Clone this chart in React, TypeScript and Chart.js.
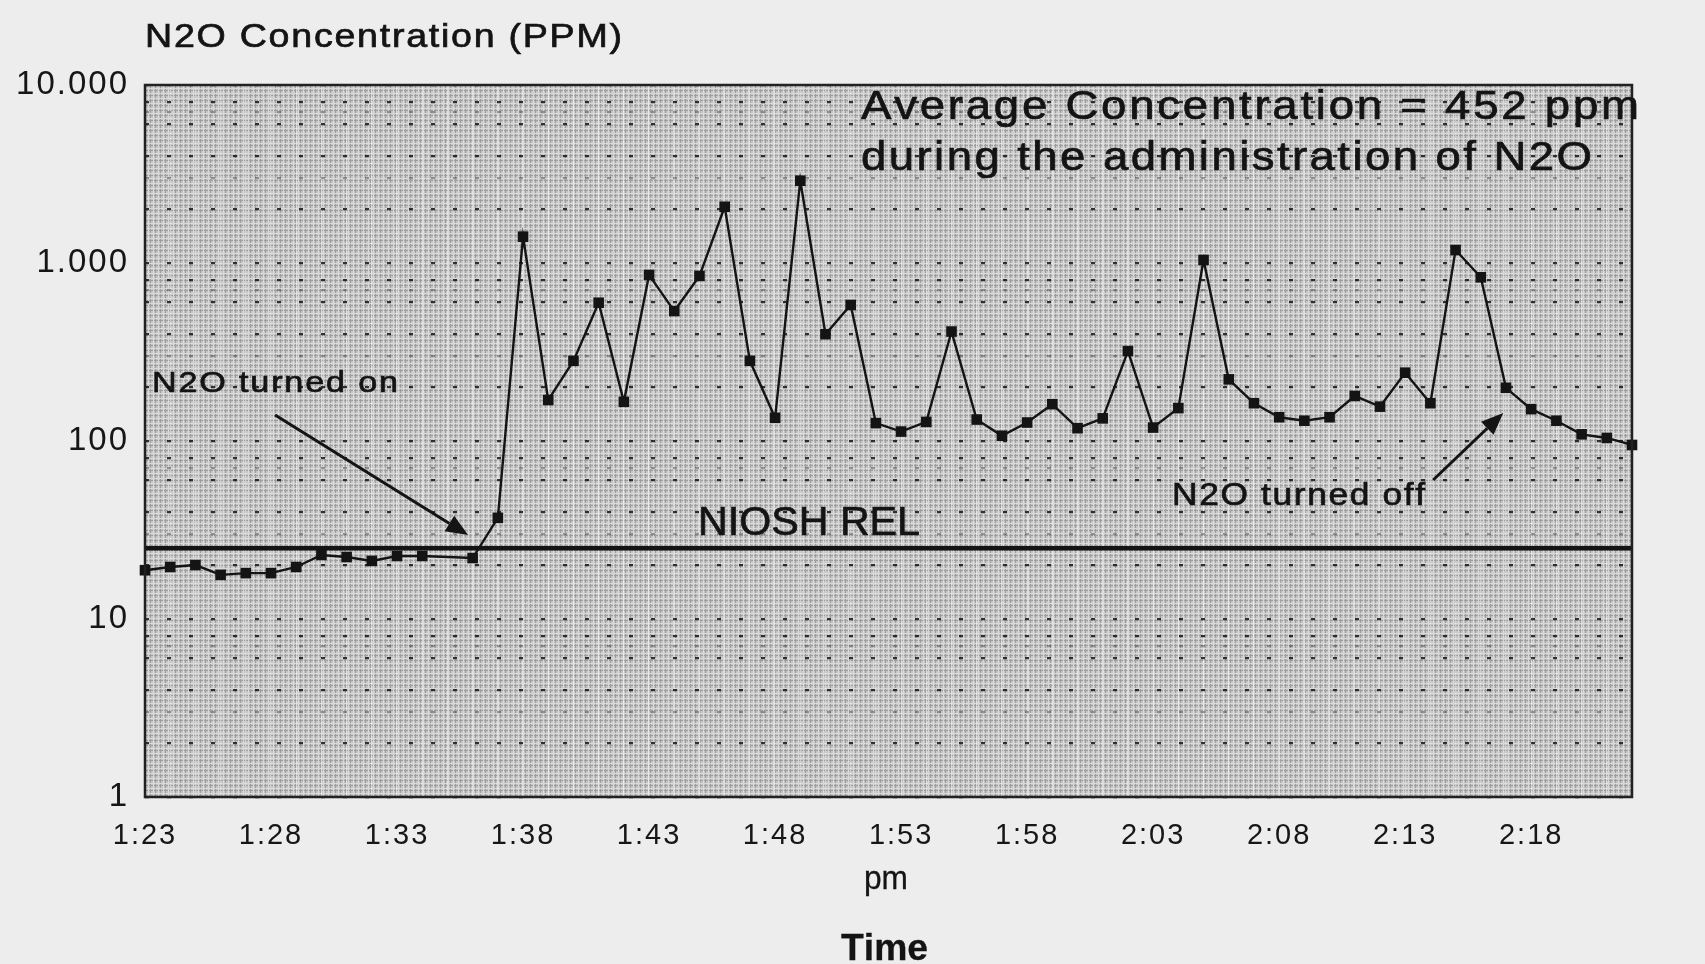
import React, { useEffect, useRef } from 'react';
import { Chart, registerables } from 'chart.js';

Chart.register(...registerables);

// ---- data ----
// minutes elapsed since 1:23 pm (1:35 has no sample)
const minutes = [
  0, 1, 2, 3, 4, 5, 6, 7, 8, 9, 10, 11, 13, 14, 15, 16, 17, 18, 19, 20,
  21, 22, 23, 24, 25, 26, 27, 28, 29, 30, 31, 32, 33, 34, 35, 36, 37, 38, 39, 40,
  41, 42, 43, 44, 45, 46, 47, 48, 49, 50, 51, 52, 53, 54, 55, 56, 57, 58, 59,
];
const concentrationPpm = [
  18.8, 19.6, 20.1, 17.7, 18.1, 18.1, 19.6, 22.9, 22.3, 21.2, 22.6, 22.6, 22.0, 37, 1406, 170, 282, 598, 166, 857,
  537, 846, 2070, 282, 135, 2900, 398, 581, 126, 113, 128, 412, 132, 107, 127, 161, 118, 134, 320, 119,
  153, 1040, 222, 163, 136, 130, 136, 179, 156, 242, 163, 1183, 831, 199, 151, 130, 109, 104, 95,
];
const nioshRelPpm = 25;
const xTickMinutes = [0, 5, 10, 15, 20, 25, 30, 35, 40, 45, 50, 55];
const xTickLabels = ['1:23', '1:28', '1:33', '1:38', '1:43', '1:48', '1:53', '1:58', '2:03', '2:08', '2:13', '2:18'];
const yDecades = [1, 10, 100, 1000, 10000];
const yTickLabels = ['1', '10', '100', '1.000', '10.000'];
const yMinorSignificands = [2, 3, 4, 6, 7, 8];

const FONT = '"Liberation Sans", Arial, Helvetica, sans-serif';
const INK = '#141414';

function drawFitted(
  ctx: CanvasRenderingContext2D,
  text: string,
  x: number,
  y: number,
  width: number,
  font: string,
  maxScale = 1.14,
  stroke = 0.7,
) {
  ctx.font = font;
  const chars = Array.from(text);
  const widths = chars.map((c) => ctx.measureText(c).width);
  const natural = widths.reduce((s, w) => s + w, 0);
  const sx = Math.min(width / natural, maxScale);
  const gap = chars.length > 1 ? (width - natural * sx) / (chars.length - 1) : 0;
  let cx = x;
  ctx.lineWidth = stroke;
  ctx.strokeStyle = INK;
  chars.forEach((c, i) => {
    ctx.save();
    ctx.translate(cx, y);
    ctx.scale(sx, 1);
    ctx.fillText(c, 0, 0);
    if (stroke > 0) ctx.strokeText(c, 0, 0);
    ctx.restore();
    cx += widths[i] * sx + gap;
  });
}

function drawArrow(ctx: CanvasRenderingContext2D, x1: number, y1: number, x2: number, y2: number, headLen: number, headHalf: number) {
  const ang = Math.atan2(y2 - y1, x2 - x1);
  const bx = x2 - headLen * Math.cos(ang);
  const by = y2 - headLen * Math.sin(ang);
  ctx.beginPath();
  ctx.moveTo(x1, y1);
  ctx.lineTo(bx, by);
  ctx.stroke();
  ctx.beginPath();
  ctx.moveTo(x2, y2);
  ctx.lineTo(bx + headHalf * Math.sin(ang), by - headHalf * Math.cos(ang));
  ctx.lineTo(bx - headHalf * Math.sin(ang), by + headHalf * Math.cos(ang));
  ctx.closePath();
  ctx.fill();
}

let paperPattern: CanvasPattern | null = null;

const paperPlugin = {
  id: 'paper',
  beforeDraw(chart: any) {
    const { ctx, chartArea: a } = chart;
    if (!paperPattern) {
      const pc = document.createElement('canvas');
      pc.width = 5;
      pc.height = 5;
      const p = pc.getContext('2d')!;
      p.fillStyle = '#c6c6c6';
      p.fillRect(0, 0, 5, 5);
      p.fillStyle = '#9e9e9e';
      p.fillRect(0, 0, 1, 5);
      p.fillRect(0, 0, 5, 1);
      p.fillStyle = '#d9d9d9';
      p.fillRect(3, 0, 1, 5);
      p.fillRect(0, 3, 5, 1);
      paperPattern = ctx.createPattern(pc, 'repeat');
    }
    ctx.save();
    ctx.fillStyle = paperPattern as any;
    ctx.fillRect(a.left, a.top, a.right - a.left, a.bottom - a.top);
    ctx.restore();
    (ctx as any).letterSpacing = '2px';
  },
  afterDraw(chart: any) {
    const { ctx, chartArea: a, scales } = chart;
    const xs = scales.x;
    const ys = scales.y;
    (ctx as any).letterSpacing = '0px';
    ctx.save();
    // frame
    ctx.strokeStyle = '#222';
    ctx.lineWidth = 2.5;
    ctx.strokeRect(a.left, a.top, a.right - a.left, a.bottom - a.top);

    ctx.fillStyle = INK;
    ctx.textAlign = 'left';
    ctx.textBaseline = 'alphabetic';
    drawFitted(ctx, 'N2O Concentration (PPM)', 145, 47, 477, `33px ${FONT}`);
    drawFitted(ctx, 'Average Concentration = 452 ppm', 861, 119, 778, `40px ${FONT}`);
    drawFitted(ctx, 'during the administration of N2O', 861, 170, 731, `40px ${FONT}`);
    drawFitted(ctx, 'N2O turned on', 152, 392, 246, `30px ${FONT}`);
    drawFitted(ctx, 'NIOSH REL', 698, 535, 222, `41px ${FONT}`);
    drawFitted(ctx, 'N2O turned off', 1172, 505, 253, `31px ${FONT}`);
    drawFitted(ctx, 'pm', 864, 889, 44, `33px ${FONT}`, 1.14, 0.3);
    drawFitted(ctx, 'Time', 841, 960, 87, `bold 37px ${FONT}`, 1.14, 0.3);

    // arrows (anchored in data space)
    ctx.fillStyle = INK;
    ctx.strokeStyle = INK;
    ctx.lineWidth = 3;
    drawArrow(ctx, xs.getPixelForValue(5.16), ys.getPixelForValue(140), xs.getPixelForValue(12.82), ys.getPixelForValue(29.6), 22, 9);
    drawArrow(ctx, xs.getPixelForValue(51.11), ys.getPixelForValue(60.4), xs.getPixelForValue(53.89), ys.getPixelForValue(143.6), 22, 9);
    ctx.restore();
  },
};

function yGridValues() {
  const vals: number[] = [];
  for (const d of yDecades) {
    vals.push(d);
    if (d < 10000) for (const s of yMinorSignificands) vals.push(s * d);
  }
  return vals;
}

export default function App() {
  const ref = useRef<HTMLCanvasElement>(null);
  useEffect(() => {
    document.body.style.margin = '0';
    document.body.style.background = '#ededed';
    const canvas = ref.current!;
    const chart = new Chart(canvas, {
      type: 'line',
      data: {
        datasets: [
          {
            label: 'N2O',
            data: minutes.map((m, i) => ({ x: m, y: concentrationPpm[i] })),
            borderColor: INK,
            borderWidth: 2.4,
            pointStyle: 'rect',
            pointRadius: 7.5,
            pointBackgroundColor: INK,
            pointBorderWidth: 0,
            tension: 0,
            clip: false as any,
          },
          {
            label: 'NIOSH REL',
            data: [
              { x: 0, y: nioshRelPpm },
              { x: 59, y: nioshRelPpm },
            ],
            borderColor: INK,
            borderWidth: 4.5,
            pointRadius: 0,
          },
        ],
      },
      options: {
        animation: false,
        responsive: false,
        maintainAspectRatio: false,
        layout: { padding: { top: 85, right: 73, left: 0, bottom: 0 } },
        plugins: { legend: { display: false }, tooltip: { enabled: false }, title: { display: false } },
        scales: {
          x: {
            type: 'linear',
            min: 0,
            max: 59,
            afterBuildTicks: (axis: any) => {
              const t: any[] = [];
              for (let m = 0; m <= 59; m++) t.push({ value: m });
              axis.ticks = t;
            },
            afterFit: (scale: any) => {
              scale.height = 167;
            },
            ticks: {
              autoSkip: false,
              maxRotation: 0,
              padding: 22,
              color: '#161616',
              font: { family: FONT, size: 29 },
              callback: (v: any) => {
                const i = xTickMinutes.indexOf(Number(v));
                return i >= 0 ? xTickLabels[i] : '';
              },
            },
            grid: {
              drawTicks: false,
              color: 'rgba(246,246,246,0.55)',
              lineWidth: 1.2,
            },
            border: { display: false },
          },
          y: {
            type: 'logarithmic',
            min: 1,
            max: 10000,
            afterBuildTicks: (axis: any) => {
              axis.ticks = yGridValues().map((v) => ({ value: v }));
            },
            afterFit: (scale: any) => {
              scale.width = 145;
            },
            ticks: {
              autoSkip: false,
              padding: 16,
              color: '#161616',
              font: { family: FONT, size: 33 },
              callback: (v: any) => {
                const i = yDecades.indexOf(Number(v));
                return i >= 0 ? yTickLabels[i] : '';
              },
            },
            grid: {
              drawTicks: false,
              lineWidth: 2.2,
              color: (c: any) => {
                const v = c.tick ? c.tick.value : 1;
                const s = Math.round(v / Math.pow(10, Math.floor(Math.log10(v) + 1e-9)));
                return s === 3 || s === 7 ? 'rgba(40,40,40,0.4)' : 'rgba(20,20,20,0.85)';
              },
            },
            border: { display: false, dash: [4, 18] },
          },
        },
      },
      plugins: [paperPlugin],
    });
    return () => chart.destroy();
  }, []);
  return (
    <div style={{ width: 1705, height: 964 }}>
      <canvas ref={ref} width={1705} height={964} />
    </div>
  );
}
